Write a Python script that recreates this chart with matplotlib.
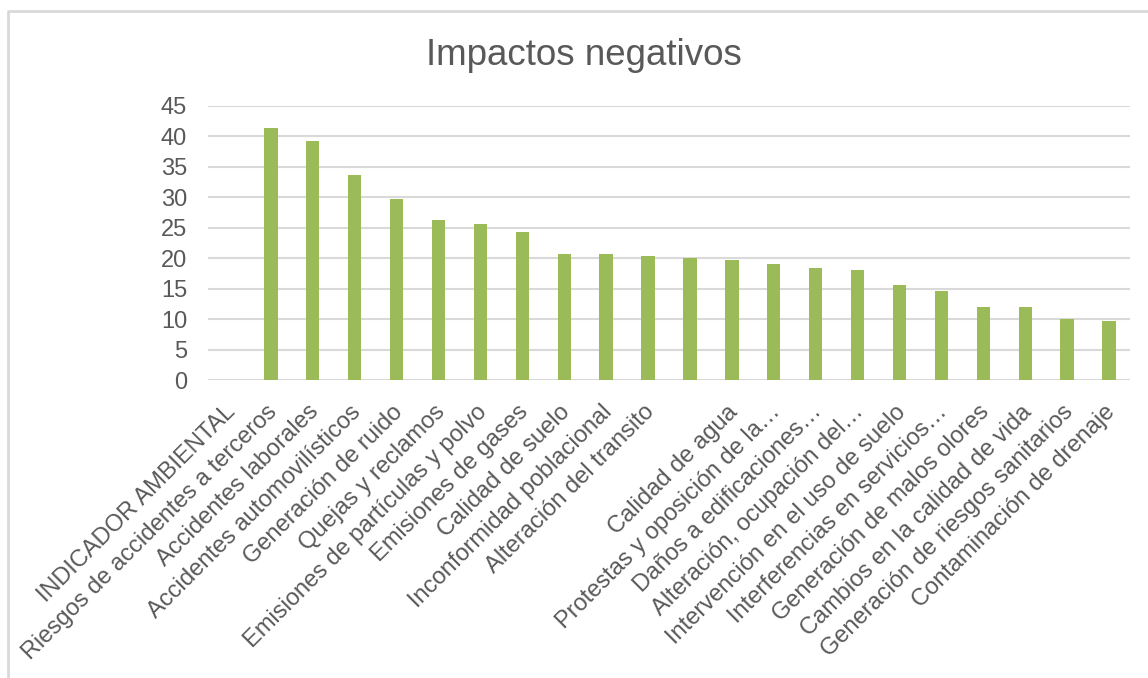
import matplotlib
matplotlib.use("Agg")
import matplotlib.pyplot as plt
import matplotlib.transforms as mtransforms
from matplotlib.lines import Line2D

categories = [
    "INDICADOR AMBIENTAL",
    "Riesgos de accidentes a terceros",
    "Accidentes laborales",
    "Accidentes automovilísticos",
    "Generación de ruido",
    "Quejas y reclamos",
    "Emisiones de partículas y polvo",
    "Emisiones de gases",
    "Calidad de suelo",
    "Inconformidad poblacional",
    "Alteración del transito",
    "",
    "Calidad de agua",
    "Protestas y oposición de la…",
    "Daños a edificaciones…",
    "Alteración, ocupación del…",
    "Intervención en el uso de suelo",
    "Interferencias en servicios…",
    "Generación de malos olores",
    "Cambios en la calidad de vida",
    "Generación de riesgos sanitarios",
    "Contaminación de drenaje",
]
values = [0, 41.33, 39.33, 33.67, 29.67, 26.33, 25.67, 24.33, 20.67, 20.67,
          20.33, 20, 19.67, 19, 18.33, 18, 15.67, 14.67, 12, 12, 10, 9.67]
yticks = [0, 5, 10, 15, 20, 25, 30, 35, 40, 45]

text_color = "#595959"
grid_color = "#D9D9D9"
bar_color = "#9BBB59"

plt.rcParams["font.family"] = ["Liberation Sans", "DejaVu Sans"]

fig = plt.figure(figsize=(11.48, 6.78), dpi=100)
ax = fig.add_axes([0.1812, 0.4395, 0.8031, 0.4042])

x = list(range(len(categories)))
ax.bar(x, values, width=0.32, color=bar_color, zorder=3)

ax.set_xlim(-0.5, len(categories) - 0.5)
ax.set_ylim(0, 45)
ax.set_yticks(yticks)
ax.set_yticklabels([str(v) for v in yticks], fontsize=17, color=text_color)
ax.tick_params(axis="y", length=0, pad=15)
ax.grid(axis="y", color=grid_color, linewidth=1.5, zorder=0)
for s in ax.spines.values():
    s.set_visible(False)

ax.set_xticks(x)
ax.set_xticklabels(categories, fontsize=17, color=text_color,
                   rotation=45, ha="right", va="top", rotation_mode="anchor")
ax.tick_params(axis="x", length=0, pad=15)
shift = mtransforms.ScaledTranslation(-5 / 100, 0, fig.dpi_scale_trans)
for lab in ax.get_xticklabels():
    lab.set_transform(lab.get_transform() + shift)

fig.text(0.5087, 1 - 65 / 678, "Impactos negativos", fontsize=26.5,
         color=text_color, ha="center", va="baseline")

# chart area border (left and top edges visible)
bx = 7.5 / 1148
by = 1 - 11 / 678
fig.add_artist(Line2D([bx, bx, 1.0], [0.0, by, by], transform=fig.transFigure,
                      color=grid_color, linewidth=2))

fig.savefig("out.png", dpi=100)
